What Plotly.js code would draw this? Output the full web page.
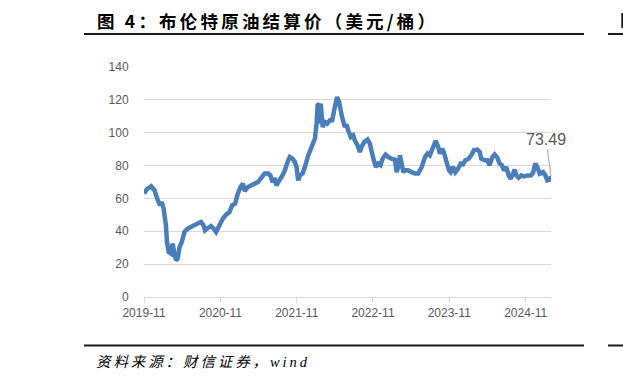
<!DOCTYPE html>
<html>
<head>
<meta charset="utf-8">
<script src="https://cdn.plot.ly/plotly-3.0.1.min.js"></script>
<style>
html, body { margin: 0; padding: 0; background: #ffffff; }
#chart { width: 623px; height: 386px; }
.annotation[data-index="0"] .annotation-text { letter-spacing: 3.2px; }
.annotation[data-index="1"] .annotation-text { letter-spacing: 2.9px; }
</style>
</head>
<body>
<div id="chart"></div>
<script>
// ---- data ----
const dates = [
'2019-11-01','2019-11-14','2019-12-05','2019-12-21','2020-01-06','2020-01-17','2020-01-25','2020-02-03','2020-02-14','2020-02-19',
'2020-02-27','2020-03-09','2020-03-17','2020-03-26','2020-04-02','2020-04-10','2020-04-19','2020-04-30','2020-05-13','2020-05-28',
'2020-06-21','2020-07-15','2020-07-31','2020-08-12','2020-08-19','2020-09-01','2020-09-17','2020-09-30','2020-10-11','2020-10-27',
'2020-11-12','2020-11-28','2020-12-14','2020-12-27','2021-01-10','2021-01-23','2021-02-05','2021-02-17','2021-02-25','2021-03-13',
'2021-03-29','2021-04-14','2021-04-30','2021-05-16','2021-06-01','2021-06-17','2021-06-28','2021-07-06','2021-07-19','2021-07-27',
'2021-08-09','2021-08-23','2021-09-05','2021-09-18','2021-09-29','2021-10-12','2021-10-23','2021-10-31','2021-11-08','2021-11-16',
'2021-11-29','2021-12-10','2021-12-26','2022-01-11','2022-01-27','2022-02-04','2022-02-09','2022-02-16','2022-02-20','2022-02-24',
'2022-03-05','2022-03-16','2022-03-27','2022-04-09','2022-04-20','2022-04-29','2022-05-13','2022-05-23','2022-06-04','2022-06-19',
'2022-06-28','2022-07-05','2022-07-18','2022-07-29','2022-08-06','2022-08-19','2022-08-30','2022-09-07','2022-09-20','2022-10-06',
'2022-10-17','2022-10-28','2022-11-07','2022-11-15','2022-11-26','2022-12-07','2022-12-17','2022-12-31','2023-01-13','2023-01-29',
'2023-02-14','2023-02-22','2023-03-02','2023-03-10','2023-03-18','2023-03-26','2023-04-03','2023-04-19','2023-05-05','2023-05-21',
'2023-06-05','2023-06-22','2023-07-08','2023-07-20','2023-07-31','2023-08-16','2023-08-28','2023-09-09','2023-09-17','2023-09-28',
'2023-10-08','2023-10-19','2023-10-31','2023-11-08','2023-11-19','2023-11-30','2023-12-13','2023-12-26','2024-01-06','2024-01-17',
'2024-02-02','2024-02-14','2024-02-27','2024-03-14','2024-03-26','2024-04-02','2024-04-19','2024-05-01','2024-05-12','2024-05-25',
'2024-06-05','2024-06-18','2024-06-29','2024-07-10','2024-07-20','2024-07-31','2024-08-11','2024-08-21','2024-09-01','2024-09-09',
'2024-09-17','2024-09-28','2024-10-11','2024-10-24','2024-11-09','2024-11-25','2024-12-06','2024-12-17','2024-12-26','2025-01-07',
'2025-01-23','2025-02-03','2025-02-12','2025-02-24','2025-03-02'
];
const brentPrice = [
63,65.5,67.4,65,58.9,55.8,57.8,53.8,43.6,33.5,
27.4,26.4,32.5,26.4,22.3,23.3,30.4,33.5,39.6,41.6,
43.2,44.7,45.6,43.6,40.6,42,43.2,41.6,39.6,43.6,
47.7,50.1,51.7,55.8,56.8,62.9,67,69,64.5,67,
68,69,70,72.7,75.1,75.1,74,71,71.5,68,
71,73.6,77.1,82.2,85.2,84.2,82.2,79.1,71,74,
75.1,79.1,86.2,91.3,96.4,105.5,116.7,117.7,105.5,117.7,
103.5,106.5,105.5,107.6,107.6,113.6,121.7,118.7,110.6,103.5,
105,101.5,97.4,98.4,95.4,92.3,88.3,91.3,94.3,95.8,
93.4,87.3,82.2,79.1,81.2,80.2,84.2,86.7,85.2,84.2,
83.6,76,79.1,86.2,81.2,76,77.1,77.1,76,75.1,
75.1,79.1,85.2,87.3,86.2,91.3,95,91.3,87.3,90.3,
87.3,82.2,77.1,76,79.1,76,78.1,81.2,80.8,83.2,
84.2,86.2,89.3,89.7,88.3,84.2,83.2,83.2,80.2,85.2,
86.8,84.8,81.2,80.2,77.1,79.1,74,72,75.1,77.5,
74,72.6,74,73.4,74,74,75.5,81.2,79.1,75.1,
76,74,71,71.4,73.49
];
const tickDates = ['2019-11-01','2020-11-01','2021-11-01','2022-11-01','2023-11-01','2024-11-01'];
const tickLabels = ['2019-11','2020-11','2021-11','2022-11','2023-11','2024-11'];
const yTicks = [0,20,40,60,80,100,120,140];
const lastLabel = '73.49';
const titleText = '图 4：布伦特原油结算价（美元/桶）';
const sourceText = '资料来源：财信证券，wind';

// ---- layout geometry (pixels) ----
const PW = 623, PH = 386;
const L = 144, T = 67, W = 407, H = 230;
const px = x => (x - L) / W;
const py = y => (T + H - y) / H;
const TITLE_LEFT = 97, SOURCE_LEFT = 96;

const trace = {
  type: 'scatter', mode: 'lines',
  x: dates, y: brentPrice,
  line: { color: '#4a7ebb', width: 4.5, simplify: false },
  hoverinfo: 'skip', showlegend: false
};

const tickFont = { family: 'Liberation Sans, Arial, sans-serif', size: 12, color: '#595959' };
const rule = { color: '#1a1a1a', width: 2 };

const layout = {
  width: PW, height: PH,
  margin: { l: L, r: PW - L - W, t: T, b: PH - T - H, pad: 0 },
  paper_bgcolor: '#ffffff', plot_bgcolor: '#ffffff',
  showlegend: false,
  xaxis: {
    type: 'date',
    range: ['2019-11-01', '2025-03-02'],
    tickmode: 'array', tickvals: tickDates, ticktext: tickLabels,
    ticks: 'outside', ticklen: 5, tickwidth: 1, tickcolor: '#d9d9d9',
    showline: true, linecolor: '#d9d9d9', linewidth: 1,
    showgrid: false, zeroline: false,
    tickfont: tickFont, fixedrange: true
  },
  yaxis: {
    range: [0, 140],
    tickmode: 'array', tickvals: yTicks,
    ticks: 'outside', ticklen: 12, tickcolor: 'rgba(0,0,0,0)',
    showgrid: true, gridcolor: '#d9d9d9', gridwidth: 1,
    showline: false, zeroline: false,
    tickfont: tickFont, fixedrange: true
  },
  shapes: [
    { type: 'line', xref: 'paper', yref: 'paper', x0: px(84), x1: px(584), y0: py(34), y1: py(34), line: rule },
    { type: 'line', xref: 'paper', yref: 'paper', x0: px(608), x1: px(623), y0: py(34), y1: py(34), line: rule },
    { type: 'line', xref: 'paper', yref: 'paper', x0: px(84), x1: px(584), y0: py(345.5), y1: py(345.5), line: rule },
    { type: 'line', xref: 'paper', yref: 'paper', x0: px(608), x1: px(623), y0: py(345.5), y1: py(345.5), line: rule },
    // edge of the neighbouring figure's title glyph, cut by the page edge
    { type: 'rect', xref: 'paper', yref: 'paper', x0: px(621.3), x1: px(623), y0: py(13), y1: py(28), line: { width: 0 }, fillcolor: '#1a1a1a' }
  ],
  annotations: [
    { xref: 'paper', yref: 'paper', x: px(TITLE_LEFT), y: py(20.5), xanchor: 'left', yanchor: 'middle',
      text: '<b>' + titleText + '</b>', showarrow: false,
      font: { family: 'Noto Sans CJK SC, sans-serif', size: 17.5, color: '#000000' } },
    { xref: 'paper', yref: 'paper', x: px(SOURCE_LEFT), y: py(361.5), xanchor: 'left', yanchor: 'middle',
      text: '<i>' + sourceText + '</i>', showarrow: false,
      font: { family: 'Liberation Serif, Noto Sans CJK SC, serif', size: 14.5, color: '#000000' } },
    { x: dates[dates.length - 1], y: brentPrice[brentPrice.length - 1], xref: 'x', yref: 'y',
      text: lastLabel, showarrow: true, arrowhead: 0, arrowwidth: 1, arrowcolor: '#a6a6a6',
      ax: -5, ay: -37, standoff: 0,
      font: { family: 'Liberation Sans, Arial, sans-serif', size: 16, color: '#595959' } }
  ]
};

Plotly.newPlot('chart', [trace], layout, { displayModeBar: false, staticPlot: true }).then(gd => {
  // letter-spacing is applied by CSS after Plotly measured the text; re-align left edges
  const host = gd.getBoundingClientRect();
  [[0, TITLE_LEFT], [1, SOURCE_LEFT]].forEach(([i, left]) => {
    const t = gd.querySelector('.annotation[data-index="' + i + '"] .annotation-text');
    if (!t) return;
    const r = t.getBoundingClientRect();
    const dx = left - (r.left - host.left);
    const x0 = parseFloat(t.getAttribute('x') || '0');
    t.setAttribute('x', x0 + dx);
    t.querySelectorAll('tspan[x]').forEach(s => s.setAttribute('x', parseFloat(s.getAttribute('x')) + dx));
  });
});
</script>
</body>
</html>
